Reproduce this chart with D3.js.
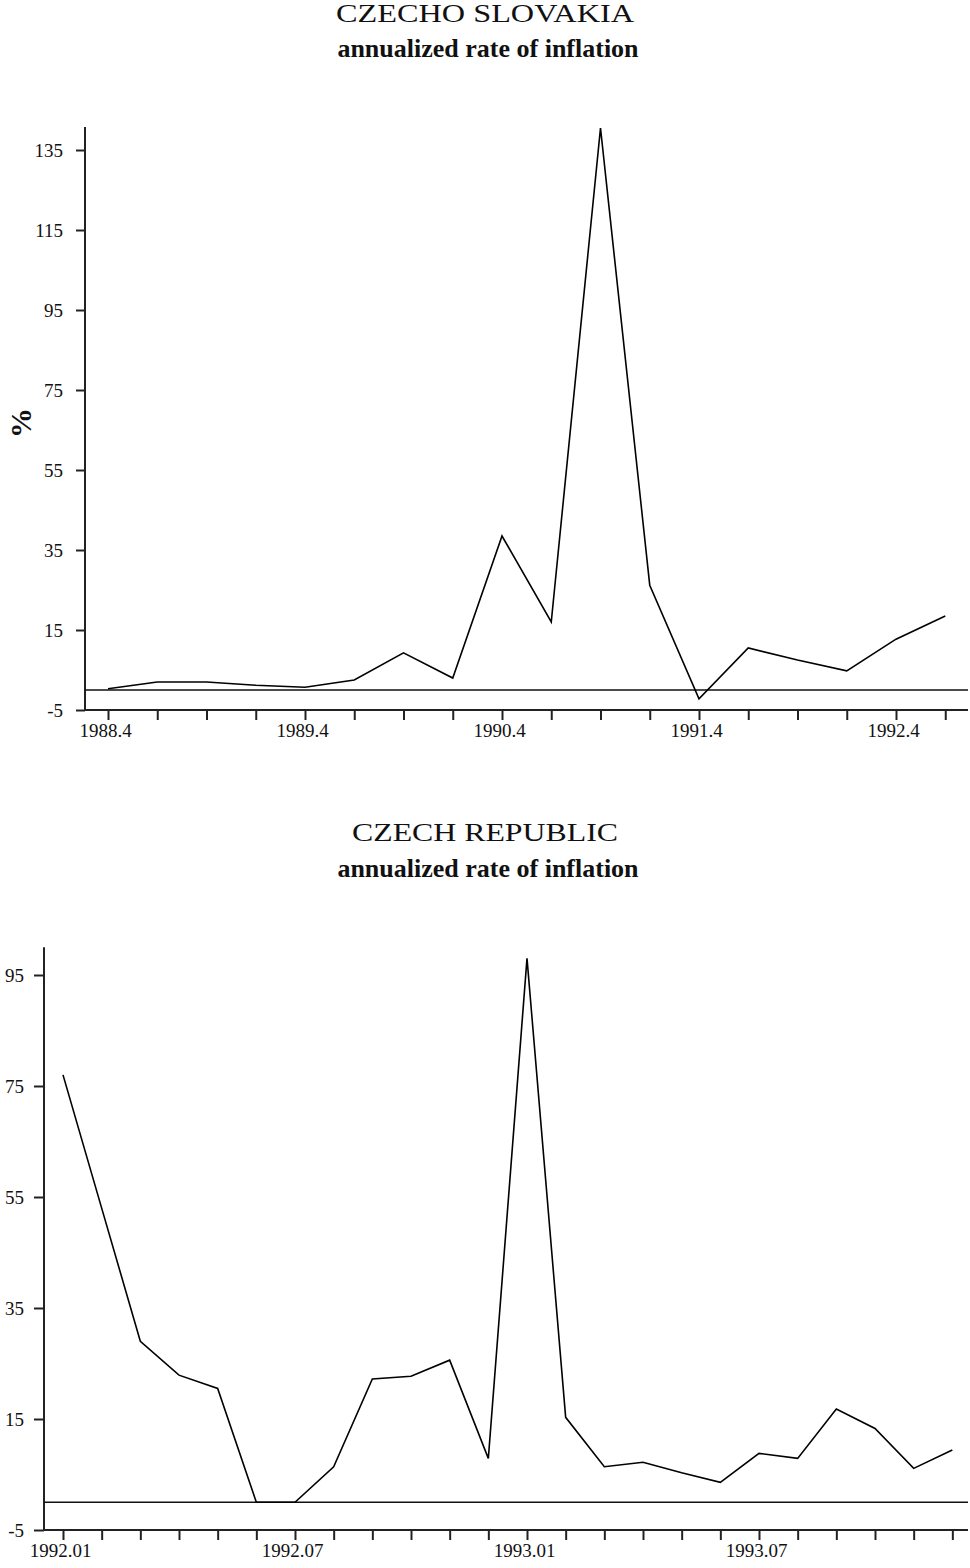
<!DOCTYPE html>
<html>
<head>
<meta charset="utf-8">
<script src="https://cdn.jsdelivr.net/npm/d3@7"></script>
<style>
  body { margin: 0; background: #fff; }
  svg { display: block; }
  text { font-family: "Liberation Serif", "Times New Roman", serif; fill: #111; }
</style>
</head>
<body>
<div id="chart"></div>
<script>
// Czechoslovakia, quarterly, annualized inflation (%)
var quartersCS = ["1988.4","1989.1","1989.2","1989.3","1989.4","1990.1","1990.2","1990.3","1990.4",
                  "1991.1","1991.2","1991.3","1991.4","1992.1","1992.2","1992.3","1992.4","1993.1"];
var valuesCS = [0.3, 2.0, 2.0, 1.2, 0.7, 2.5, 9.3, 3.0, 38.5, 17.0, 140.5, 26.2, -2.2, 10.5, 7.5, 4.8, 12.7, 18.5];
var yTicksCS = [-5, 15, 35, 55, 75, 95, 115, 135];

// Czech Republic, monthly, annualized inflation (%)
var monthsCZ = ["1992.01","1992.02","1992.03","1992.04","1992.05","1992.06","1992.07","1992.08",
                "1992.09","1992.10","1992.11","1992.12","1993.01","1993.02","1993.03","1993.04",
                "1993.05","1993.06","1993.07","1993.08","1993.09","1993.10","1993.11","1993.12"];
var valuesCZ = [77.0, 53.0, 29.0, 22.9, 20.5, 0.0, 0.0, 6.4, 22.2, 22.7, 25.6, 7.9,
                98.0, 15.3, 6.4, 7.2, 5.3, 3.6, 8.8, 7.9, 16.8, 13.3, 6.1, 9.4];
var yTicksCZ = [-5, 15, 35, 55, 75, 95];

var W = 970, H = 1568;

var svg = d3.select("#chart")
  .append("svg")
  .attr("width", W)
  .attr("height", H);

function drawTitle(title, sub, y1, y2, w1) {
  svg.append("text")
    .attr("x", 485).attr("y", y1)
    .attr("text-anchor", "middle")
    .attr("font-size", 26)
    .attr("textLength", w1)
    .attr("lengthAdjust", "spacingAndGlyphs")
    .text(title);
  svg.append("text")
    .attr("x", 488).attr("y", y2)
    .attr("text-anchor", "middle")
    .attr("font-size", 26)
    .attr("font-weight", "bold")
    .text(sub);
}

function drawPanel(opt) {
  var x = d3.scaleLinear().domain(opt.xDomain).range(opt.xRange);
  var y = d3.scaleLinear().domain(opt.yDomain).range(opt.yRange);

  var g = svg.append("g");

  // y axis
  var yAxis = d3.axisLeft(y)
    .tickValues(opt.yTicks)
    .tickSize(opt.yTickSize)
    .tickPadding(opt.yPad)
    .tickSizeOuter(0)
    .tickFormat(function(d) { return String(d); });
  var ya = g.append("g")
    .attr("transform", "translate(" + opt.axisX + ",0)")
    .call(yAxis);
  ya.select(".domain").remove();
  ya.selectAll(".tick line").attr("stroke", "#222").attr("stroke-width", 2);
  ya.selectAll(".tick text").attr("font-size", 19).attr("font-family", "Liberation Serif, serif").attr("fill", "#111");

  // x axis
  var xAxis = d3.axisBottom(x)
    .tickValues(d3.range(opt.labels.length))
    .tickSize(10)
    .tickPadding(4)
    .tickSizeOuter(0)
    .tickFormat(function(i) { return opt.showLabel(opt.labels[i]) ? opt.labels[i] : ""; });
  var xa = g.append("g")
    .attr("transform", "translate(0," + y(opt.yDomain[0]) + ")")
    .call(xAxis);
  xa.select(".domain").remove();
  xa.selectAll(".tick line").attr("stroke", "#222").attr("stroke-width", 2);
  xa.selectAll(".tick text").attr("font-size", 19).attr("font-family", "Liberation Serif, serif")
    .attr("fill", "#111").attr("dx", -3);

  // axis lines
  g.append("line")
    .attr("x1", opt.axisX).attr("x2", opt.axisX)
    .attr("y1", y(opt.yDomain[0]) + 1).attr("y2", y(opt.yDomain[1]))
    .attr("stroke", "#222").attr("stroke-width", 2);
  g.append("line")
    .attr("x1", opt.axisX).attr("x2", opt.axisRight)
    .attr("y1", y(opt.yDomain[0])).attr("y2", y(opt.yDomain[0]))
    .attr("stroke", "#222").attr("stroke-width", 2);

  // zero line
  g.append("line")
    .attr("x1", opt.axisX).attr("x2", opt.axisRight)
    .attr("y1", y(0)).attr("y2", y(0))
    .attr("stroke", "#111").attr("stroke-width", 1.5);

  // series
  var line = d3.line()
    .x(function(d, i) { return x(i); })
    .y(function(d) { return y(d); });
  g.append("path")
    .datum(opt.values)
    .attr("fill", "none")
    .attr("stroke", "#000")
    .attr("stroke-width", 1.6)
    .attr("stroke-linejoin", "miter")
    .attr("d", line);
}

// top panel
drawTitle("CZECHO SLOVAKIA", "annualized rate of inflation", 22, 57, 298);
drawPanel({
  labels: quartersCS,
  values: valuesCS,
  yTicks: yTicksCS,
  xDomain: [0, 16], xRange: [108, 896],
  yDomain: [-5, 140.75], yRange: [710, 127],
  axisX: 85, axisRight: 968,
  yTickSize: 9, yPad: 13,
  showLabel: function(s) { return /\.4$/.test(s); }
});

svg.append("text")
  .attr("transform", "translate(31,423) rotate(-90)")
  .attr("text-anchor", "middle")
  .attr("font-size", 30)
  .attr("font-weight", "bold")
  .text("%");

// bottom panel
drawTitle("CZECH REPUBLIC", "annualized rate of inflation", 841, 877, 266);
drawPanel({
  labels: monthsCZ,
  values: valuesCZ,
  yTicks: yTicksCZ,
  xDomain: [0, 12], xRange: [63, 527],
  yDomain: [-5, 100], yRange: [1530, 947.25],
  axisX: 44, axisRight: 968,
  yTickSize: 10, yPad: 10,
  showLabel: function(s) { return /\.(01|07)$/.test(s); }
});
</script>
</body>
</html>
